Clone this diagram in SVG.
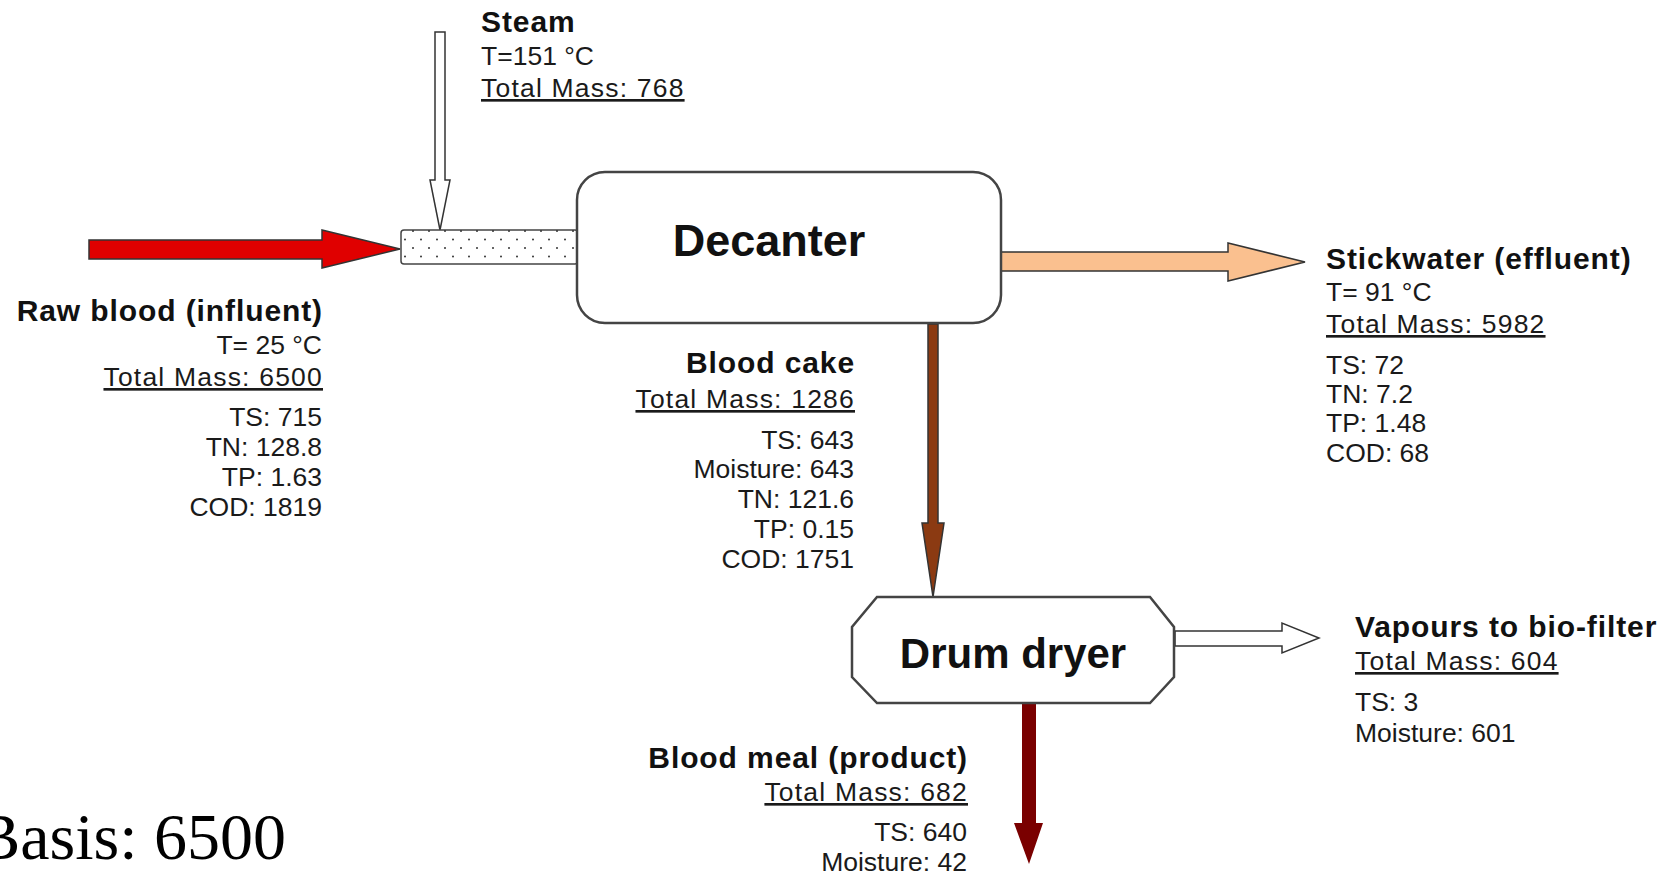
<svg xmlns="http://www.w3.org/2000/svg" width="1676" height="875" viewBox="0 0 1676 875">
<style>
text{font-family:"Liberation Sans",Arial,sans-serif;fill:#1a1a1a}
.b{font-weight:bold;font-size:30px;letter-spacing:0.9px;fill:#111}
.r{font-size:26.5px}
.tm{font-size:26.5px;letter-spacing:1.2px;text-decoration:underline}
.e{text-anchor:end}
.box{fill:#fff;stroke:#444;stroke-width:2.5}
.out{stroke:#333;stroke-width:1.5;stroke-linejoin:miter}
</style>
<defs>
<pattern id="dots" x="401" y="230" width="16" height="17" patternUnits="userSpaceOnUse">
<circle cx="4" cy="9.5" r="1" fill="#333"/>
<circle cx="12" cy="1" r="1" fill="#333"/>
</pattern>
</defs>
<rect width="1676" height="875" fill="#fff"/>
<g id="connectors">
<polygon id="raw-blood-arrow" class="out" fill="#E00000" stroke="#8a0000" points="89,240 322,240 322,230 400,249 322,268 322,259 89,259"/>
<polygon id="steam-arrow" class="out" fill="#fff" stroke="#555" points="435,32 445,32 445,180 450,180 440,230 430,180 435,180"/>
<polygon id="stickwater-arrow" class="out" fill="#FAC08F" points="1000,252 1228,252 1228,243 1305,262 1228,281 1228,271 1000,271"/>
<polygon id="blood-cake-arrow" class="out" fill="#8B3A12" stroke="#4a1a05" points="928,324 938,324 938,523 944,523 933,597 922,523 928,523"/>
<polygon id="vapours-arrow" class="out" fill="#fff" stroke="#444" points="1175,631 1282,631 1282,623 1319,638 1282,653 1282,646 1175,646"/>
<polygon id="blood-meal-arrow" fill="#7A0000" points="1022,704 1036,704 1036,823 1043,823 1029,864 1014,823 1022,823"/>
</g>
<g id="mixer">
<rect x="401" y="230" width="177" height="34" rx="3" fill="#fff" stroke="#444" stroke-width="1.5"/>
<rect x="401" y="230" width="177" height="34" rx="3" fill="url(#dots)"/>
</g>
<g id="decanter">
<rect class="box" x="577" y="172" width="424" height="151" rx="28"/>
<text x="769" y="256" text-anchor="middle" style="font-weight:bold;font-size:45px;fill:#111">Decanter</text>
</g>
<g id="drum-dryer">
<polygon class="box" points="877,597 1150,597 1174,627 1174,677 1150,703 877,703 852,677 852,627"/>
<text x="1013" y="668" text-anchor="middle" style="font-weight:bold;font-size:42px;fill:#111">Drum dryer</text>
</g>
<g id="steam-label">
<text class="b" x="481" y="32">Steam</text>
<text class="r" x="481" y="65">T=151 °C</text>
<text class="tm" x="481" y="97">Total Mass: 768</text>
</g>
<g id="raw-blood-label">
<text class="b e" x="323" y="321">Raw blood (influent)</text>
<text class="r e" x="322" y="354">T= 25 °C</text>
<text class="tm e" x="323" y="386">Total Mass: 6500</text>
<text class="r e" x="322" y="426">TS: 715</text>
<text class="r e" x="322" y="456">TN: 128.8</text>
<text class="r e" x="322" y="486">TP: 1.63</text>
<text class="r e" x="322" y="516">COD: 1819</text>
</g>
<g id="stickwater-label">
<text class="b" x="1326" y="269">Stickwater (effluent)</text>
<text class="r" x="1326" y="301">T= 91 °C</text>
<text class="tm" x="1326" y="333">Total Mass: 5982</text>
<text class="r" x="1326" y="374">TS: 72</text>
<text class="r" x="1326" y="403">TN: 7.2</text>
<text class="r" x="1326" y="432">TP: 1.48</text>
<text class="r" x="1326" y="462">COD: 68</text>
</g>
<g id="blood-cake-label">
<text class="b e" x="855" y="373">Blood cake</text>
<text class="tm e" x="855" y="408">Total Mass: 1286</text>
<text class="r e" x="854" y="449">TS: 643</text>
<text class="r e" x="854" y="478">Moisture: 643</text>
<text class="r e" x="854" y="508">TN: 121.6</text>
<text class="r e" x="854" y="538">TP: 0.15</text>
<text class="r e" x="854" y="568">COD: 1751</text>
</g>
<g id="vapours-label">
<text class="b" x="1355" y="637">Vapours to bio-filter</text>
<text class="tm" x="1355" y="670">Total Mass: 604</text>
<text class="r" x="1355" y="711">TS: 3</text>
<text class="r" x="1355" y="742">Moisture: 601</text>
</g>
<g id="blood-meal-label">
<text class="b e" x="968" y="768">Blood meal (product)</text>
<text class="tm e" x="968" y="801">Total Mass: 682</text>
<text class="r e" x="967" y="841">TS: 640</text>
<text class="r e" x="967" y="871">Moisture: 42</text>
</g>
<g id="basis">
<text x="286" y="859" text-anchor="end" style="font-family:'Liberation Serif','Times New Roman',serif;font-size:66px;fill:#000">Basis: 6500</text>
</g>
</svg>
